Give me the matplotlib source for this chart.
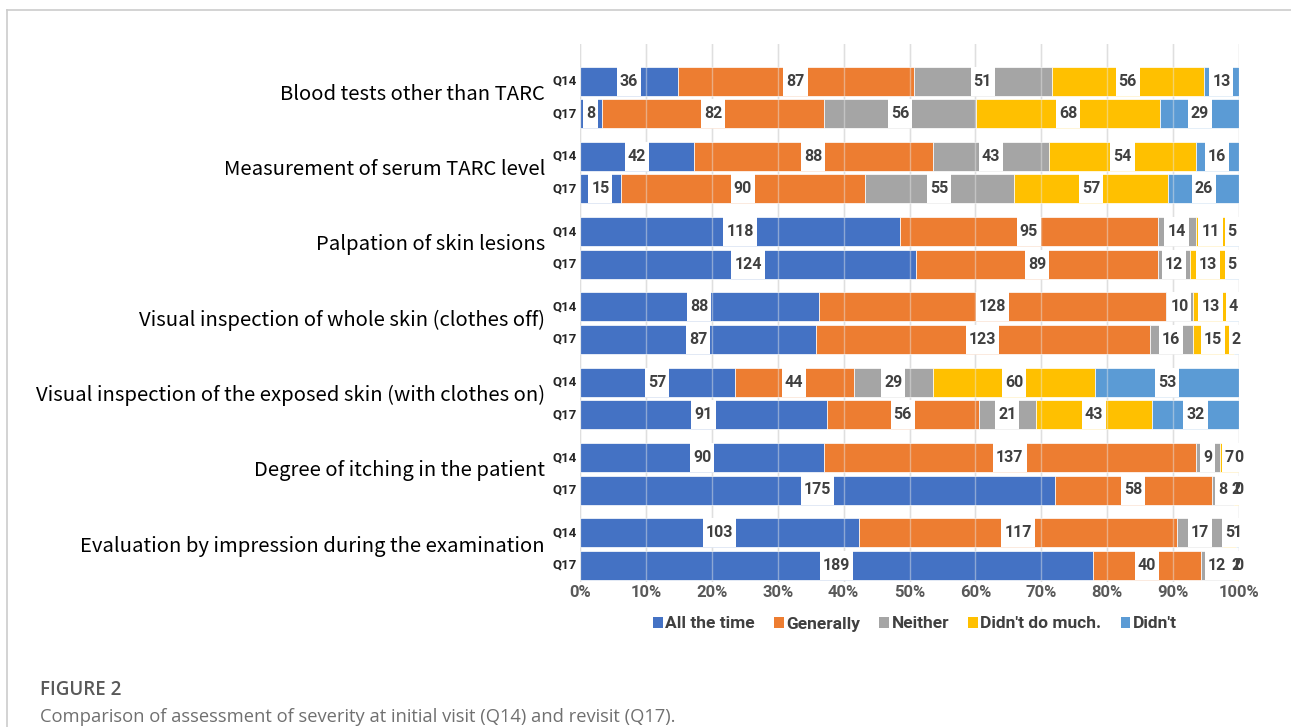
import matplotlib
matplotlib.use("Agg")
import matplotlib.pyplot as plt
from matplotlib.patches import Rectangle, Patch
from matplotlib.lines import Line2D

categories = [
    "Blood tests other than TARC",
    "Measurement of serum TARC level",
    "Palpation of skin lesions",
    "Visual inspection of whole skin (clothes off)",
    "Visual inspection of the exposed skin (with clothes on)",
    "Degree of itching in the patient",
    "Evaluation by impression during the examination",
]
responses = ["All the time", "Generally", "Neither", "Didn't do much.", "Didn't"]

# counts per item: [all the time, generally, neither, didn't do much, didn't]
q14 = [
    [36, 87, 51, 56, 13],
    [42, 88, 43, 54, 16],
    [118, 95, 14, 11, 5],
    [88, 128, 10, 13, 4],
    [57, 44, 29, 60, 53],
    [90, 137, 9, 7, 0],
    [103, 117, 17, 5, 1],
]
q17 = [
    [8, 82, 56, 68, 29],
    [15, 90, 55, 57, 26],
    [124, 89, 12, 13, 5],
    [87, 123, 16, 15, 2],
    [91, 56, 21, 43, 32],
    [175, 58, 8, 2, 0],
    [189, 40, 12, 2, 0],
]
colors = ["#4472C4", "#ED7D31", "#A5A5A5", "#FFC000", "#5B9BD5"]

label_font = ["Roboto", "DejaVu Sans"]
cat_font = ["Noto Sans CJK JP", "DejaVu Sans"]
cap_font = ["Open Sans", "DejaVu Sans"]

W, H = 1291, 727
fig = plt.figure(figsize=(W / 100, H / 100), dpi=100)
ax = fig.add_axes([580 / W, 1 - 582 / H, (1239 - 580) / W, (582 - 44) / H])
ax.set_xlim(0, 100)
ax.set_ylim(538, 0)

pitch = 75.3
bar_h = 29

rows = []
for i in range(len(categories)):
    rows.append((37 + pitch * i, q14[i], "Q14"))
    rows.append((69.5 + pitch * i, q17[i], "Q17"))

value_texts = []
for y, counts, q in rows:
    total = sum(counts)
    left = 0.0
    for k, c in enumerate(counts):
        w = c / total * 100
        ax.barh(y, w, left=left, height=bar_h, color=colors[k],
                edgecolor="#ffffff", linewidth=0.5, zorder=2)
        t = ax.text(left + w / 2, y, str(c), ha="center", va="center",
                    fontsize=11.5, fontweight="bold", color="#404040",
                    family=label_font, zorder=6)
        value_texts.append((t, y))
        left += w
    ax.text(-2.3, y, q, ha="center", va="center", fontsize=9.5,
            fontweight="bold", color="#262626", family=label_font)

for i, cat in enumerate(categories):
    ymid = (37 + 69.5) / 2 + pitch * i - 3
    ax.text(-5.3, ymid, cat, ha="right", va="center", fontsize=14.6,
            color="#000000", family=cat_font)

# grid under and faintly over the bars
for x in range(0, 101, 10):
    ax.axvline(x, color="#d9d9d9", lw=1, zorder=1)
    ax.axvline(x, color="#e8e8e8", lw=1, alpha=0.45, zorder=3)

for s in ax.spines.values():
    s.set_visible(False)
ax.set_yticks([])
ax.set_xticks(range(0, 101, 10))
ax.set_xticklabels([f"{x}%" for x in range(0, 101, 10)], fontsize=12,
                   fontweight="bold", color="#595959", family=label_font)
ax.tick_params(axis="x", length=0, pad=2)

# white boxes behind the value labels
fig.canvas.draw()
renderer = fig.canvas.get_renderer()
inv = ax.transData.inverted()
for t, y in value_texts:
    bb = t.get_window_extent(renderer)
    x0 = inv.transform((bb.x0 - 3, 0))[0]
    x1 = inv.transform((bb.x1 + 3, 0))[0]
    ax.add_patch(Rectangle((x0, y - bar_h / 2), x1 - x0, bar_h,
                           facecolor="white", edgecolor="none", zorder=5))

handles = [Patch(facecolor=c, edgecolor="none") for c in colors]
fig.legend(handles, responses, loc="center", ncol=5,
           bbox_to_anchor=(915 / W, 1 - 624 / H), frameon=False,
           handlelength=0.55, handleheight=0.55, handletextpad=0.15,
           columnspacing=1.1, prop={"family": label_font, "weight": "bold", "size": 12.5},
           labelcolor="#404040")

fig.text(40 / W, 1 - 690 / H, "FIGURE 2", fontsize=13.5, color="#595959",
         va="center", family=cap_font, fontweight="semibold")
fig.text(40 / W, 1 - 717 / H,
         "Comparison of assessment of severity at initial visit (Q14) and revisit (Q17).",
         fontsize=13.2, color="#707070", va="center", family=cap_font)

fig.add_artist(Line2D([7 / W, 1], [1 - 10 / H, 1 - 10 / H], color="#cccccc", lw=1.2))
fig.add_artist(Line2D([7 / W, 7 / W], [1 - 10 / H, 0], color="#cccccc", lw=1.2))

fig.savefig("out.png", dpi=100)
